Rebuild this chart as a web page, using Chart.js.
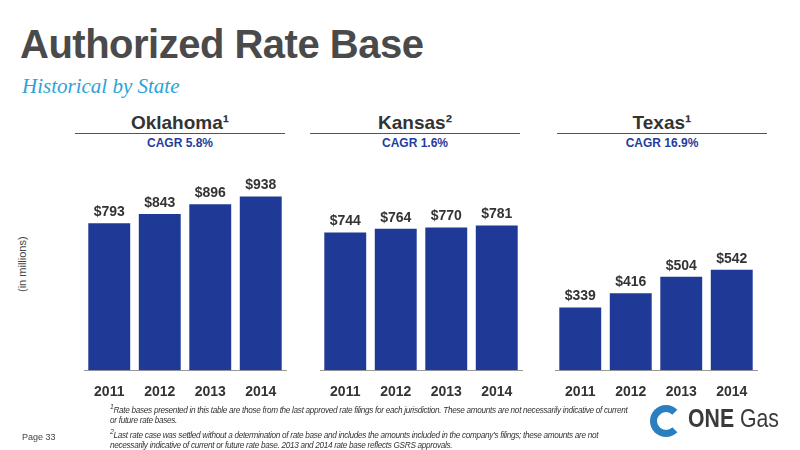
<!DOCTYPE html><html><head><meta charset="utf-8">
<script src="https://cdn.jsdelivr.net/npm/chart.js@4"></script>
<style>
body{margin:0;width:800px;height:450px;background:#fff;position:relative;overflow:hidden;font-family:"Liberation Sans",Arial,sans-serif}
.abs{position:absolute}
.title{left:20px;top:22px;font-size:40px;font-weight:bold;color:#4a4a4a;letter-spacing:-0.5px}
.sub{left:22px;top:74px;font-size:21px;font-style:italic;color:#2aa3d8;font-family:"Liberation Serif",serif}
.st{font-size:19px;font-weight:bold;color:#333;text-align:center;width:210px}
.line{height:1px;background:#555;width:210px}
.cagr{font-size:12px;font-weight:bold;color:#1f3d9c;text-align:center;width:210px}
canvas{position:absolute}
.fn{left:110px;top:402px;font-size:8.2px;font-style:italic;color:#333;line-height:10.5px;width:520px;letter-spacing:-0.3px}
</style></head><body>
<div class="abs title">Authorized Rate Base</div>
<div class="abs sub">Historical by State</div>
<div id="hdr"></div>
<div class="abs" style="left:16px;transform:rotate(-90deg);transform-origin:left top;font-size:11px;color:#444;top:292px">(in millions)</div>
<canvas id="c0" width="230" height="232" style="left:70px;top:175px;width:230px;height:232px"></canvas>
<canvas id="c1" width="230" height="232" style="left:306px;top:175px;width:230px;height:232px"></canvas>
<canvas id="c2" width="230" height="232" style="left:541px;top:175px;width:230px;height:232px"></canvas>
<div class="abs fn"><sup>1</sup>Rate bases presented in this table are those from the last approved rate filings for each jurisdiction. These amounts are not necessarily indicative of current or future rate bases.<br><sup>2</sup>Last rate case was settled without a determination of rate base and includes the amounts included in the company's filings; these amounts are not necessarily indicative of current or future rate base. 2013 and 2014 rate base reflects GSRS approvals.</div>
<div class="abs" style="left:22px;top:432px;font-size:9px;color:#444">Page 33</div>
<div class="abs" style="left:650px;top:405px;width:32px;height:32px;border-radius:50%;border:7px solid #2a7fc1;border-right-color:transparent;box-sizing:border-box"></div>
<div class="abs" style="left:688px;top:404px;font-size:25px;color:#3a3a3a;white-space:nowrap;transform:scaleX(0.85);transform-origin:left top"><b>ONE</b> Gas</div>
<script>
const years=["2011","2012","2013","2014"];
const states=["Oklahoma¹","Kansas²","Texas¹"];
const cagr=["CAGR 5.8%","CAGR 1.6%","CAGR 16.9%"];
const oklahoma=[793,843,896,938];
const kansas=[744,764,770,781];
const texas=[339,416,504,542];
const series=[oklahoma,kansas,texas];
const hx=[75,310,557];
let h='';
states.forEach((s,i)=>{h+=`<div class="abs st" style="left:${hx[i]}px;top:112px">${s}</div><div class="abs line" style="left:${hx[i]}px;top:133px"></div><div class="abs cagr" style="left:${hx[i]}px;top:136px">${cagr[i]}</div>`});
document.getElementById('hdr').innerHTML=h;
const lbl={id:'lbl',afterDatasetsDraw(ch){const c=ch.ctx;c.save();c.font='bold 14px "Liberation Sans Narrow",sans-serif';c.fillStyle='#333';c.textAlign='center';c.textBaseline='bottom';
ch.getDatasetMeta(0).data.forEach((b,i)=>c.fillText('$'+ch.data.datasets[0].data[i],b.x,b.y-4));c.restore();}};
series.forEach((d,i)=>{new Chart(document.getElementById('c'+i),{type:'bar',plugins:[lbl],
data:{labels:years,datasets:[{data:d,backgroundColor:'#1f3a96',barPercentage:0.83,categoryPercentage:1}]},
options:{responsive:false,animation:false,layout:{padding:{left:14,right:14,top:10,bottom:0}},plugins:{legend:{display:false},tooltip:{enabled:false}},
scales:{y:{display:false,min:0,max:1000},x:{grid:{display:false},border:{color:'#999'},ticks:{font:{size:14,weight:'bold',family:'"Liberation Sans Narrow",sans-serif'},color:'#333',padding:6}}}}});});
</script></body></html>
